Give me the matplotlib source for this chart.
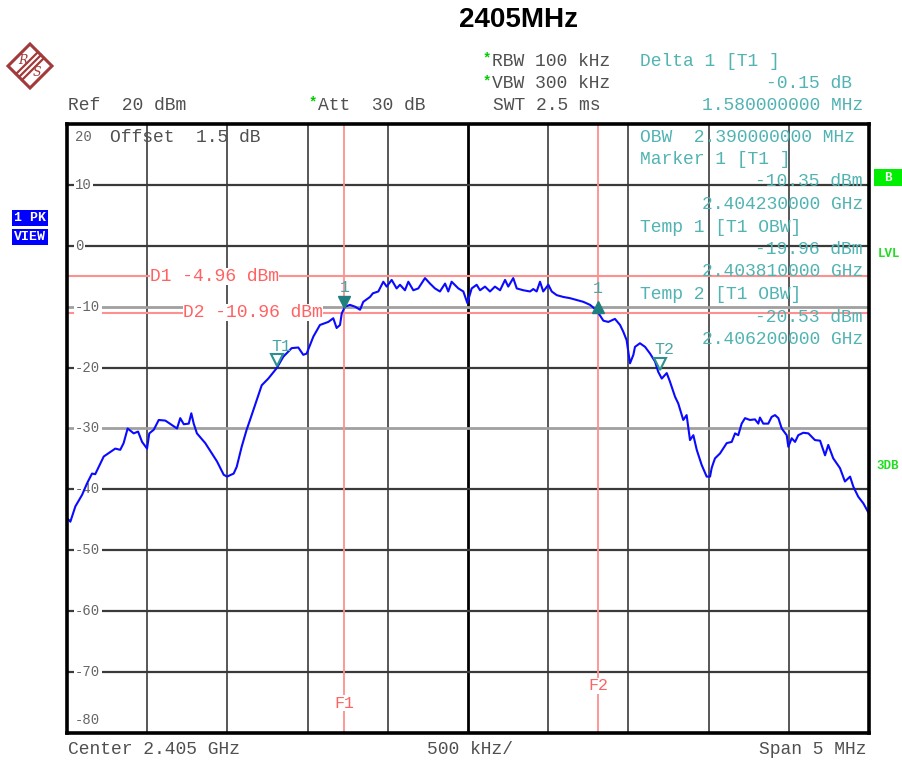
import matplotlib
matplotlib.use("Agg")
import matplotlib.pyplot as plt
import matplotlib.transforms as mtransforms
from matplotlib.patches import Polygon, Rectangle

# ---------------- data ----------------
center_mhz = 2405.0
span_mhz = 5.0
ref_level = 20
y_bottom = -80

trace_offset_mhz = [
    -2.500, -2.479, -2.448, -2.406, -2.375, -2.344, -2.324, -2.271, -2.199, -2.168,
    -2.147, -2.122, -2.084, -2.057, -2.032, -2.001, -1.987, -1.959, -1.928, -1.887,
    -1.814, -1.794, -1.772, -1.741, -1.725, -1.710, -1.690, -1.638, -1.565, -1.523,
    -1.502, -1.461, -1.442, -1.411, -1.380, -1.359, -1.317, -1.286, -1.245, -1.193,
    -1.151, -1.099, -1.058, -1.027, -1.006, -0.964, -0.923, -0.871, -0.840, -0.819,
    -0.798, -0.787, -0.767, -0.736, -0.704, -0.673, -0.653, -0.611, -0.593, -0.559,
    -0.528, -0.507, -0.476, -0.445, -0.424, -0.393, -0.372, -0.341, -0.310, -0.268,
    -0.237, -0.206, -0.175, -0.143, -0.123, -0.102, -0.060, -0.029, -0.004, 0.023,
    0.054, 0.075, 0.106, 0.137, 0.168, 0.200, 0.231, 0.251, 0.282, 0.304,
    0.345, 0.387, 0.407, 0.428, 0.449, 0.469, 0.501, 0.522, 0.553, 0.594,
    0.636, 0.678, 0.719, 0.761, 0.802, 0.844, 0.875, 0.916, 0.948, 0.968,
    0.989, 1.010, 1.031, 1.041, 1.072, 1.104, 1.135, 1.166, 1.186, 1.208,
    1.239, 1.259, 1.291, 1.311, 1.342, 1.363, 1.384, 1.405, 1.426, 1.457,
    1.488, 1.509, 1.519, 1.529, 1.540, 1.571, 1.613, 1.644, 1.665, 1.685,
    1.706, 1.727, 1.758, 1.789, 1.810, 1.820, 1.841, 1.872, 1.893, 1.914,
    1.935, 1.956, 1.987, 1.997, 2.018, 2.039, 2.059, 2.090, 2.122, 2.163,
    2.195, 2.226, 2.246, 2.277, 2.319, 2.350, 2.382, 2.403, 2.433, 2.465, 2.494,
]
trace_level_dbm = [
    -44.7, -45.3, -42.8, -40.9, -39.0, -37.4, -37.5, -34.6, -33.3, -33.5,
    -32.4, -30.0, -30.8, -30.5, -32.2, -33.3, -30.8, -30.2, -28.6, -28.7,
    -30.0, -28.3, -29.3, -29.2, -27.5, -29.2, -30.8, -32.4, -35.4, -37.6,
    -37.9, -37.4, -36.3, -33.0, -30.2, -28.6, -25.3, -22.9, -21.8, -20.1,
    -18.2, -16.8, -16.7, -17.9, -17.7, -14.9, -13.0, -12.5, -11.9, -13.5,
    -13.0, -11.1, -10.0, -9.7, -10.0, -10.5, -9.2, -8.4, -7.8, -7.5,
    -5.9, -6.7, -5.6, -7.0, -6.4, -7.3, -5.9, -7.3, -7.0, -5.3,
    -6.2, -7.0, -7.5, -6.2, -7.5, -5.9, -7.0, -7.5, -9.4, -7.0,
    -6.4, -7.3, -6.7, -7.5, -6.7, -7.3, -5.6, -6.7, -5.3, -7.0,
    -7.3, -7.5, -7.1, -7.5, -5.9, -7.5, -6.4, -7.5, -8.1, -8.4,
    -8.6, -8.9, -9.2, -9.7, -10.6, -12.3, -12.5, -12.0, -13.0, -14.1,
    -15.5, -19.3, -17.9, -16.6, -16.0, -16.6, -17.7, -19.0, -20.7, -21.8,
    -20.9, -22.3, -24.8, -25.9, -28.6, -27.8, -31.9, -31.1, -33.5, -36.0,
    -37.9, -37.9, -36.5, -35.7, -34.9, -34.1, -32.4, -32.2, -30.8, -31.1,
    -29.2, -28.3, -28.6, -28.5, -29.2, -28.2, -29.2, -29.2, -28.1, -27.8,
    -28.3, -30.0, -31.1, -33.0, -31.6, -32.2, -31.1, -30.7, -30.8, -31.9,
    -32.0, -34.4, -32.7, -34.9, -36.5, -38.7, -37.9, -39.6, -41.2, -42.3, -43.7,
]

display_lines_dbm = [-4.96, -10.96]
display_line_labels = ["D1 -4.96 dBm", "D2 -10.96 dBm"]
freq_lines_mhz = [2404.23, 2405.81]
freq_line_labels = ["F1", "F2"]

marker_freq_mhz = [2404.23, 2405.81]
marker_level_dbm = [-10.35, -10.50]
temp_freq_mhz = [2403.81, 2406.20]
temp_level_dbm = [-19.96, -20.53]
temp_labels = ["T1", "T2"]

y_ticks = [20, 10, 0, -10, -20, -30, -40, -50, -60, -70, -80]

header_left = ["Ref  20 dBm"]
settings = ["RBW 100 kHz", "VBW 300 kHz", "SWT 2.5 ms"]
delta_info = ["Delta 1 [T1 ]", "-0.15 dB", "1.580000000 MHz"]
panel_lines = ["OBW  2.390000000 MHz", "Marker 1 [T1 ]", "-10.35 dBm", "2.404230000 GHz",
               "Temp 1 [T1 OBW]", "-19.96 dBm", "2.403810000 GHz",
               "Temp 2 [T1 OBW]", "-20.53 dBm", "2.406200000 GHz"]
panel_align = ["l", "l", "r", "r", "l", "r", "r", "l", "r", "r"]

# ---------------- figure ----------------
W, H = 903, 762
fig = plt.figure(figsize=(W / 100, H / 100), dpi=100)
fig.patch.set_facecolor("white")

L, R, T, B = 67, 869, 124, 733
ax = fig.add_axes([L / W, 1 - B / H, (R - L) / W, (B - T) / H])


def fx(x):
    return x / W


def fy(y):
    return 1 - y / H


def axx(x):
    return (x - L) / (R - L)


def axy(y):
    return (B - y) / (B - T)


MONO = "Liberation Mono"
GRAY = "#505050"
TEAL = "#52b3b3"
RED = "#ff6262"
LRED = "#ff9090"

xmin = center_mhz - span_mhz / 2
xmax = center_mhz + span_mhz / 2
ax.set_xlim(xmin, xmax)
ax.set_ylim(y_bottom, ref_level)
ax.set_xticks([])
ax.set_yticks([])
for s in ax.spines.values():
    s.set_linewidth(2.6)
    s.set_color("black")
    s.set_zorder(10)

# grid
for i in range(1, 10):
    xv = xmin + i * span_mhz / 10
    if i == 5:
        ax.axvline(xv, color="black", lw=2.0, zorder=1)
    else:
        ax.axvline(xv, color="#4a4a4a", lw=1.3, zorder=1)
for yv in y_ticks[1:-1]:
    col = "#a0a0a0" if yv in (-10, -30) else "#3a3a3a"
    lw = 2.0 if yv in (-10, -30) else 1.6
    ax.axhline(yv, color=col, lw=lw, zorder=1)

# y tick labels inside
blend = mtransforms.blended_transform_factory(ax.transAxes, ax.transData)
for yv in y_ticks:
    if yv == ref_level:
        ax.text(axx(75), axy(137), str(yv), transform=ax.transAxes, ha="left", va="center",
                family=MONO, fontsize=10, color="#666666", zorder=4)
    elif yv == y_bottom:
        ax.text(axx(75), axy(720), str(yv), transform=ax.transAxes, ha="left", va="center",
                family=MONO, fontsize=10, color="#666666", zorder=4)
    else:
        ax.text(axx(75), yv, str(yv), transform=blend, ha="left", va="center",
                family=MONO, fontsize=10, color="#666666", zorder=4,
                bbox=dict(facecolor="white", edgecolor="none", pad=1.0))

ax.text(axx(110), axy(137), "Offset  1.5 dB", transform=ax.transAxes, ha="left", va="center",
        family=MONO, fontsize=13, color=GRAY, zorder=4)

# display lines
for yv, lab, xl in zip(display_lines_dbm, display_line_labels, [150, 183]):
    ax.axhline(yv, color=LRED, lw=1.5, zorder=2)
    ax.text(axx(xl), yv, lab, transform=blend, ha="left", va="center", family=MONO,
            fontsize=13, color=RED, zorder=4,
            bbox=dict(facecolor="white", edgecolor="none", pad=0.0))

# frequency lines
for xv, lab, yl in zip(freq_lines_mhz, freq_line_labels, [703, 686]):
    ax.axvline(xv, color=LRED, lw=1.3, zorder=2)
    ax.text(xv, axy(yl), lab, transform=mtransforms.blended_transform_factory(ax.transData, ax.transAxes),
            ha="center", va="center", family=MONO, fontsize=12, color=RED, zorder=4,
            bbox=dict(facecolor="white", edgecolor="none", pad=0.5))

# trace
trace_freq = [center_mhz + f for f in trace_offset_mhz]
ax.plot(trace_freq, trace_level_dbm, color="#0a0aff", lw=1.5, zorder=5)

# markers
off_up = mtransforms.offset_copy(ax.transData, fig=fig, x=0, y=5, units="points")
off_lab = mtransforms.offset_copy(ax.transData, fig=fig, x=0, y=15, units="points")
ax.plot(marker_freq_mhz[0], marker_level_dbm[0], marker="v", ms=8, color="#1f7f7f",
        transform=off_up, zorder=6, clip_on=False)
ax.plot(marker_freq_mhz[1], marker_level_dbm[1], marker="^", ms=8, color="#1f7f7f",
        transform=mtransforms.offset_copy(ax.transData, fig=fig, x=0, y=2, units="points"),
        zorder=6)
for f, lv in zip(marker_freq_mhz, marker_level_dbm):
    ax.text(f, lv, "1", transform=off_lab, ha="center", va="center", family=MONO,
            fontsize=12, color="#4aa5a5", zorder=6)
for f, lv, lab in zip(temp_freq_mhz, temp_level_dbm, temp_labels):
    ax.plot(f, lv, marker="v", ms=8, mfc="white", mec="#2a9090", mew=1.5,
            transform=off_up, zorder=6)
    ax.text(f, lv, lab, transform=mtransforms.offset_copy(ax.transData, fig=fig, x=3, y=15, units="points"),
            ha="center", va="center", family=MONO, fontsize=12, color="#4aa5a5", zorder=6)

# marker info panel (inside the plot)
for i, (txt, al) in enumerate(zip(panel_lines, panel_align)):
    yp = 137 + i * 22.5
    if al == "l":
        fig.text(fx(640), fy(yp), txt, ha="left", va="center", family=MONO, fontsize=13, color=TEAL, zorder=7)
    else:
        fig.text(fx(863), fy(yp), txt, ha="right", va="center", family=MONO, fontsize=13, color=TEAL, zorder=7)

# ---------------- header ----------------
fig.text(fx(518), fy(20), "2405MHz", ha="center", va="center", family="Liberation Sans",
         fontweight="bold", fontsize=20, color="black")

fig.text(fx(68), fy(105), header_left[0], ha="left", va="center", family=MONO, fontsize=13, color=GRAY)
fig.text(fx(309), fy(102), "*", ha="left", va="center", family=MONO, fontsize=10, color="#00cc00", fontweight="bold")
fig.text(fx(318), fy(105), "Att  30 dB", ha="left", va="center", family=MONO, fontsize=13, color=GRAY)
fig.text(fx(483), fy(58), "*", ha="left", va="center", family=MONO, fontsize=10, color="#00cc00", fontweight="bold")
fig.text(fx(492), fy(61), settings[0], ha="left", va="center", family=MONO, fontsize=13, color=GRAY)
fig.text(fx(483), fy(81), "*", ha="left", va="center", family=MONO, fontsize=10, color="#00cc00", fontweight="bold")
fig.text(fx(492), fy(84), settings[1], ha="left", va="center", family=MONO, fontsize=13, color=GRAY)
fig.text(fx(493), fy(105), settings[2], ha="left", va="center", family=MONO, fontsize=13, color=GRAY)

fig.text(fx(640), fy(61), delta_info[0], ha="left", va="center", family=MONO, fontsize=13, color=TEAL)
fig.text(fx(852), fy(84), delta_info[1], ha="right", va="center", family=MONO, fontsize=13, color=TEAL)
fig.text(fx(863), fy(105), delta_info[2], ha="right", va="center", family=MONO, fontsize=13, color=TEAL)

# bottom labels
fig.text(fx(68), fy(749), "Center 2.405 GHz", ha="left", va="center", family=MONO, fontsize=13, color=GRAY)
fig.text(fx(470), fy(749), "500 kHz/", ha="center", va="center", family=MONO, fontsize=13, color=GRAY)
fig.text(fx(867), fy(749), "Span 5 MHz", ha="right", va="center", family=MONO, fontsize=13, color=GRAY)

# left status boxes
for lab, yc in [("1 PK", 218), ("VIEW", 237)]:
    fig.text(fx(30), fy(yc), lab, ha="center", va="center", family=MONO, fontsize=9.5,
             fontweight="bold", color="white",
             bbox=dict(facecolor="#0000ff", edgecolor="none", boxstyle="square,pad=0.18"))

# right status indicators
fig.patches.append(Rectangle((fx(874), fy(186)), (903 - 874) / W, 17 / H, transform=fig.transFigure,
                             facecolor="#00ee00", edgecolor="none"))
fig.text(fx(888), fy(178), "B", ha="center", va="center", family=MONO, fontsize=9,
         fontweight="bold", color="white")
fig.text(fx(889), fy(254), "LVL", ha="center", va="center", family=MONO, fontsize=9,
         fontweight="bold", color="#22dd22")
fig.text(fx(888), fy(466), "3DB", ha="center", va="center", family=MONO, fontsize=9,
         fontweight="bold", color="#22dd22")

# R&S logo
LOGO = "#a33a3a"
cx, cy, rr = 30, 66, 22
diamond = [(fx(cx), fy(cy - rr)), (fx(cx + rr), fy(cy)), (fx(cx), fy(cy + rr)), (fx(cx - rr), fy(cy))]
fig.patches.append(Polygon(diamond, closed=True, transform=fig.transFigure, facecolor="white",
                           edgecolor=LOGO, lw=2.2))
for d in (-3, 0, 3):
    fig.lines.append(plt.Line2D([fx(cx + 11 + d), fx(cx - 11 + d)], [fy(cy - 11 + d), fy(cy + 11 + d)],
                                transform=fig.transFigure, color=LOGO, lw=1.6))
fig.text(fx(cx - 7), fy(cy - 6), "R", ha="center", va="center", family="DejaVu Serif",
         style="italic", fontsize=9, color=LOGO)
fig.text(fx(cx + 7), fy(cy + 7), "S", ha="center", va="center", family="DejaVu Serif",
         style="italic", fontsize=9, color=LOGO)

fig.savefig("out.png", dpi=100, facecolor="white")
